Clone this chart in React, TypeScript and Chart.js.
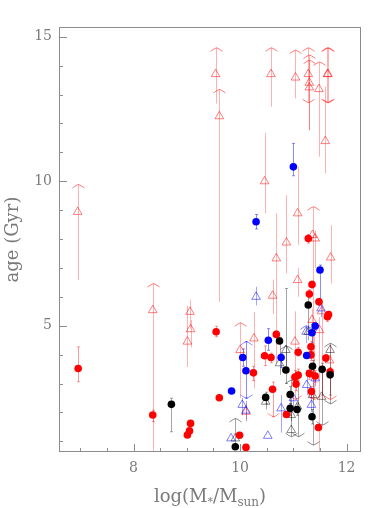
import { useEffect, useRef } from "react";
import { Chart, registerables } from "chart.js";
Chart.register(...registerables);

// [x = log M*, age, lower, upper, limit flag (0 none, 1 lower-limit arrow up, 2 upper-limit arrow down, 3 both)]
type Pt = [number, number, number, number, number];

const redDots: Pt[] = [
  [6.96, 3.52, 3.06, 4.27, 0], [8.36, 1.91, 1.68, 2.08, 0], [9.01, 1.22, 1.22, 1.22, 0],
  [9.05, 1.36, 1.36, 1.36, 0], [9.07, 1.62, 1.62, 1.62, 0], [9.55, 4.79, 4.62, 4.98, 0],
  [9.61, 2.51, 2.51, 2.51, 0], [9.99, 1.21, 1.21, 1.21, 0], [10.11, 0.79, 0.79, 0.79, 0],
  [10.25, 3.37, 3.1, 3.6, 0], [10.46, 3.96, 3.62, 4.3, 0], [10.58, 3.9, 3.72, 4.05, 0],
  [10.61, 2.8, 1.85, 3.05, 2], [10.68, 4.7, 4.58, 4.82, 0], [10.87, 1.93, 1.85, 2.02, 0],
  [11.03, 3.22, 3.0, 3.45, 0], [11.05, 2.98, 2.75, 3.2, 0], [11.09, 3.29, 3.1, 3.5, 0],
  [11.09, 4.08, 3.95, 4.25, 0], [11.28, 8.02, 7.86, 8.16, 0], [11.3, 6.1, 5.95, 6.25, 0],
  [11.35, 6.43, 6.3, 6.55, 0], [11.33, 4.27, 4.1, 4.45, 0], [11.33, 3.99, 3.8, 4.15, 0],
  [11.3, 3.35, 3.15, 3.55, 0], [11.41, 3.26, 3.05, 3.45, 0], [11.34, 2.72, 2.5, 2.9, 0],
  [11.47, 1.48, 1.4, 1.56, 0], [11.48, 5.83, 5.7, 5.95, 0], [11.61, 3.88, 3.75, 4.0, 0],
  [11.64, 5.31, 5.15, 5.45, 0], [11.66, 5.39, 5.25, 5.5, 0], [11.69, 3.41, 3.25, 3.55, 0],
];

const blueDots: Pt[] = [
  [9.84, 2.74, 2.74, 2.74, 0], [10.05, 3.9, 3.6, 4.2, 0], [10.11, 3.44, 2.49, 4.45, 3],
  [10.3, 8.6, 8.35, 8.85, 0], [10.53, 4.5, 4.15, 4.9, 0], [10.77, 3.9, 3.55, 4.05, 0],
  [11.0, 10.5, 10.19, 11.31, 0], [11.25, 3.97, 3.97, 3.97, 0], [11.35, 4.76, 4.4, 5.05, 0],
  [11.41, 4.99, 4.85, 5.1, 0], [11.5, 6.93, 5.9, 7.1, 0],
];

const blackDots: Pt[] = [
  [8.71, 2.28, 1.33, 2.49, 0], [9.91, 0.81, 0.81, 0.81, 0], [10.48, 2.52, 2.3, 2.7, 0],
  [10.74, 4.47, 3.9, 4.6, 0], [10.86, 3.47, 3.0, 6.29, 0], [10.94, 2.62, 2.3, 2.9, 0],
  [10.94, 2.14, 1.9, 2.3, 0], [11.07, 2.1, 1.9, 2.3, 0], [11.28, 5.72, 4.8, 6.0, 0],
  [11.36, 3.6, 3.3, 3.8, 0], [11.54, 3.49, 2.6, 3.7, 0], [11.69, 3.3, 2.6, 3.5, 0],
  [11.35, 1.85, 1.6, 2.1, 0],
];

const redTris: Pt[] = [
  [6.95, 8.94, 6.58, 9.89, 1], [8.36, 5.54, 0.2, 6.46, 1], [9.01, 4.45, 3.57, 5.69, 0],
  [9.06, 5.48, 4.9, 5.9, 0], [9.07, 4.88, 4.25, 5.2, 0], [9.54, 13.71, 12.69, 14.62, 1],
  [9.61, 12.25, 5.83, 13.18, 1], [10.0, 4.16, 2.49, 5.1, 1], [10.11, 2.02, 1.75, 2.3, 0],
  [10.26, 4.56, 2.83, 5.48, 0], [10.46, 10.0, 8.89, 11.68, 0], [10.58, 13.71, 12.58, 14.62, 1],
  [10.61, 6.04, 5.4, 6.6, 0], [10.68, 7.33, 3.7, 8.89, 0], [10.87, 7.88, 6.81, 9.52, 0],
  [11.04, 13.59, 12.87, 14.54, 1], [11.03, 4.45, 2.45, 5.5, 2], [11.08, 8.89, 7.8, 10.5, 0],
  [11.08, 6.58, 6.0, 7.0, 0], [11.28, 13.71, 12.72, 14.62, 3], [11.3, 13.41, 11.77, 14.37, 1],
  [11.3, 13.25, 11.77, 14.19, 1], [11.48, 13.19, 10.85, 14.13, 1], [11.64, 13.71, 12.72, 14.62, 3],
  [11.65, 13.71, 12.72, 14.62, 3], [11.6, 11.39, 10.27, 13.27, 0], [11.7, 7.36, 6.46, 8.48, 0],
  [11.36, 8.14, 2.4, 9.12, 1], [11.41, 8.02, 7.0, 8.3, 0], [11.35, 5.2, 4.2, 5.6, 0],
  [11.53, 5.5, 2.43, 5.9, 0], [11.49, 4.85, 0.3, 5.3, 0], [11.38, 3.3, 2.45, 4.9, 2],
  [11.68, 3.8, 2.45, 4.3, 2],
];

const blueTris: Pt[] = [
  [10.3, 6.0, 5.7, 6.35, 0], [10.04, 2.26, 1.9, 2.5, 0], [10.11, 2.06, 1.7, 2.4, 0],
  [9.83, 1.1, 1.1, 1.1, 0], [10.52, 1.19, 1.19, 1.19, 0], [10.77, 2.14, 1.3, 2.6, 0],
  [11.24, 4.79, 4.4, 5.0, 1], [11.25, 2.95, 2.6, 3.3, 0], [11.34, 2.26, 2.0, 2.6, 0],
  [11.41, 3.18, 2.9, 3.4, 0], [11.0, 2.49, 2.2, 2.7, 0], [11.52, 5.6, 5.3, 5.9, 0],
];

const grayTris: Pt[] = [
  [9.91, 1.1, 0.8, 1.79, 1], [10.48, 2.37, 2.1, 2.6, 0], [10.74, 3.7, 3.3, 4.0, 0],
  [10.86, 4.16, 3.6, 4.3, 1], [10.96, 1.39, 1.16, 3.12, 3], [10.96, 1.91, 1.7, 2.1, 0],
  [11.28, 4.79, 4.5, 5.0, 0], [11.36, 2.6, 0.87, 3.6, 2], [11.53, 2.54, 1.56, 3.5, 2],
  [11.69, 4.16, 2.3, 4.39, 3], [11.08, 2.2, 1.16, 2.9, 2],
];

const xMajorTicks = [8, 10, 12];
const xMinorTicks = [7, 7.5, 8.5, 9, 9.5, 10.5, 11, 11.5];
const yMajorTicks = [5, 10, 15];
const yMinorTicks = [1, 2, 3, 4, 6, 7, 8, 9, 11, 12, 13, 14];
const xLimits = [6.6, 12.27];
const yLimits = [0.63, 15.34];
const yTitle = "age (Gyr)";

const FONT = '"DejaVu Serif", serif';
const TEXT = "#7a7a7a";

const errorBars = {
  id: "errorBars",
  beforeDatasetsDraw(chart: any) {
    const { ctx, chartArea: a } = chart;
    const xs = chart.scales.x, ys = chart.scales.y;
    ctx.save();
    ctx.beginPath();
    ctx.rect(a.left, a.top, a.right - a.left, a.bottom - a.top);
    ctx.clip();
    chart.data.datasets.forEach((ds: any) => {
      ctx.strokeStyle = ds.errColor;
      ctx.lineWidth = 1;
      (ds.pts as Pt[]).forEach((p) => {
        const x = Math.round(xs.getPixelForValue(p[0])) + 0.5;
        const yl = ys.getPixelForValue(p[2]);
        const yh = ys.getPixelForValue(p[3]);
        ctx.beginPath();
        ctx.moveTo(x, yl);
        ctx.lineTo(x, yh);
        if (ds.serif && yl - yh > 2) {
          ctx.moveTo(x - 1.5, yl); ctx.lineTo(x + 1.5, yl);
          ctx.moveTo(x - 1.5, yh); ctx.lineTo(x + 1.5, yh);
        }
        ctx.stroke();
        ctx.strokeStyle = ds.capColor || ds.errColor;
        if (p[4] === 1 || p[4] === 3) {
          ctx.beginPath();
          ctx.moveTo(x - 6, yh + 3.5);
          ctx.quadraticCurveTo(x - 2, yh + 0.5, x, yh);
          ctx.quadraticCurveTo(x + 2, yh + 0.5, x + 6, yh + 3.5);
          ctx.stroke();
        }
        if (p[4] === 2 || p[4] === 3) {
          ctx.beginPath();
          ctx.moveTo(x - 6, yl - 3.5);
          ctx.quadraticCurveTo(x - 2, yl - 0.5, x, yl);
          ctx.quadraticCurveTo(x + 2, yl - 0.5, x + 6, yl - 3.5);
          ctx.stroke();
        }
        ctx.strokeStyle = ds.errColor;
      });
    });
    ctx.restore();
  },
};

const frame = {
  id: "frame",
  afterDraw(chart: any) {
    const { ctx, chartArea: a } = chart;
    const xs = chart.scales.x, ys = chart.scales.y;
    ctx.save();
    ctx.strokeStyle = "#8c8c8c";
    ctx.lineWidth = 1;
    ctx.strokeRect(a.left + 0.5, a.top + 0.5, a.right - a.left - 1, a.bottom - a.top - 1);
    ctx.beginPath();
    const tx = (v: number, len: number) => {
      const x = Math.round(xs.getPixelForValue(v)) + 0.5;
      ctx.moveTo(x, a.bottom); ctx.lineTo(x, a.bottom - len);
    };
    const ty = (v: number, len: number) => {
      const y = Math.round(ys.getPixelForValue(v)) + 0.5;
      ctx.moveTo(a.left, y); ctx.lineTo(a.left + len, y);
    };
    xMajorTicks.forEach((v) => tx(v, 8));
    xMinorTicks.forEach((v) => tx(v, 4));
    yMajorTicks.forEach((v) => ty(v, 8));
    yMinorTicks.forEach((v) => ty(v, 4));
    ctx.stroke();

    ctx.fillStyle = TEXT;
    // y title
    ctx.save();
    ctx.font = `18px ${FONT}`;
    ctx.translate(13, (a.top + a.bottom) / 2);
    ctx.rotate(-Math.PI / 2);
    ctx.textAlign = "center";
    ctx.textBaseline = "middle";
    ctx.fillText(yTitle, 0, 0);
    ctx.restore();
    // x title with subscripts
    const parts: [string, number, number][] = [
      ["log(M", 18, 0], ["*", 11, 3], ["/M", 18, 0], ["sun", 12, 4], [")", 18, 0],
    ];
    ctx.textBaseline = "alphabetic";
    ctx.textAlign = "left";
    let total = 0;
    parts.forEach(([t, s]) => { ctx.font = `${s}px ${FONT}`; total += ctx.measureText(t).width; });
    let cx = (a.left + a.right) / 2 - total / 2;
    parts.forEach(([t, s, dy]) => {
      ctx.font = `${s}px ${FONT}`;
      ctx.fillText(t, cx, 502 + dy);
      cx += ctx.measureText(t).width;
    });
    ctx.restore();
  },
};

function build(pts: Pt[]) {
  return pts.map((p) => ({ x: p[0], y: p[1] }));
}

export default function App() {
  const ref = useRef<HTMLCanvasElement>(null);
  useEffect(() => {
    if (!ref.current) return;
    const tri = (pts: Pt[], stroke: string, err: string) => ({
      data: build(pts), pts, errColor: err, capColor: stroke, serif: false,
      pointStyle: "triangle", pointRadius: 5, borderWidth: 1,
      borderColor: stroke, backgroundColor: "rgba(0,0,0,0)",
    });
    const dot = (pts: Pt[], fill: string, err: string) => ({
      data: build(pts), pts, errColor: err, serif: true,
      pointStyle: "circle", pointRadius: 3.8, borderWidth: 0,
      borderColor: fill, backgroundColor: fill,
    });
    const chart = new Chart(ref.current, {
      type: "scatter",
      data: {
        datasets: [
          dot(blackDots, "#000000", "rgba(0,0,0,0.35)"),
          dot(blueDots, "#0000ff", "rgba(0,0,255,0.45)"),
          dot(redDots, "#ff0000", "rgba(255,0,0,0.4)"),
          tri(grayTris, "rgba(0,0,0,0.45)", "rgba(0,0,0,0.35)"),
          tri(blueTris, "rgba(0,0,255,0.5)", "rgba(0,0,255,0.35)"),
          tri(redTris, "rgba(255,0,0,0.5)", "rgba(255,0,0,0.3)"),
        ] as any,
      },
      options: {
        animation: false,
        responsive: false,
        events: [],
        layout: { padding: { top: 27, right: 21, left: 0, bottom: 0 } },
        plugins: { legend: { display: false }, tooltip: { enabled: false } },
        scales: {
          x: {
            type: "linear", min: xLimits[0], max: xLimits[1],
            grid: { display: false, drawTicks: false },
            border: { display: false },
            afterFit: (s: any) => { s.height = 56; },
            afterBuildTicks: (s: any) => { s.ticks = xMajorTicks.map((v) => ({ value: v })); },
            ticks: { color: TEXT, font: { family: FONT, size: 14 }, padding: 8, maxRotation: 0 },
          },
          y: {
            type: "linear", min: yLimits[0], max: yLimits[1],
            grid: { display: false, drawTicks: false },
            border: { display: false },
            afterFit: (s: any) => { s.width = 59; },
            afterBuildTicks: (s: any) => { s.ticks = yMajorTicks.map((v) => ({ value: v })); },
            ticks: { color: TEXT, font: { family: FONT, size: 14 }, padding: 7 },
          },
        },
      } as any,
      plugins: [errorBars, frame],
    });
    return () => chart.destroy();
  }, []);
  return (
    <div style={{ position: "fixed", left: 0, top: 0, width: 382, height: 508, background: "#fff" }}>
      <canvas ref={ref} width={382} height={508} style={{ display: "block" }} />
    </div>
  );
}
